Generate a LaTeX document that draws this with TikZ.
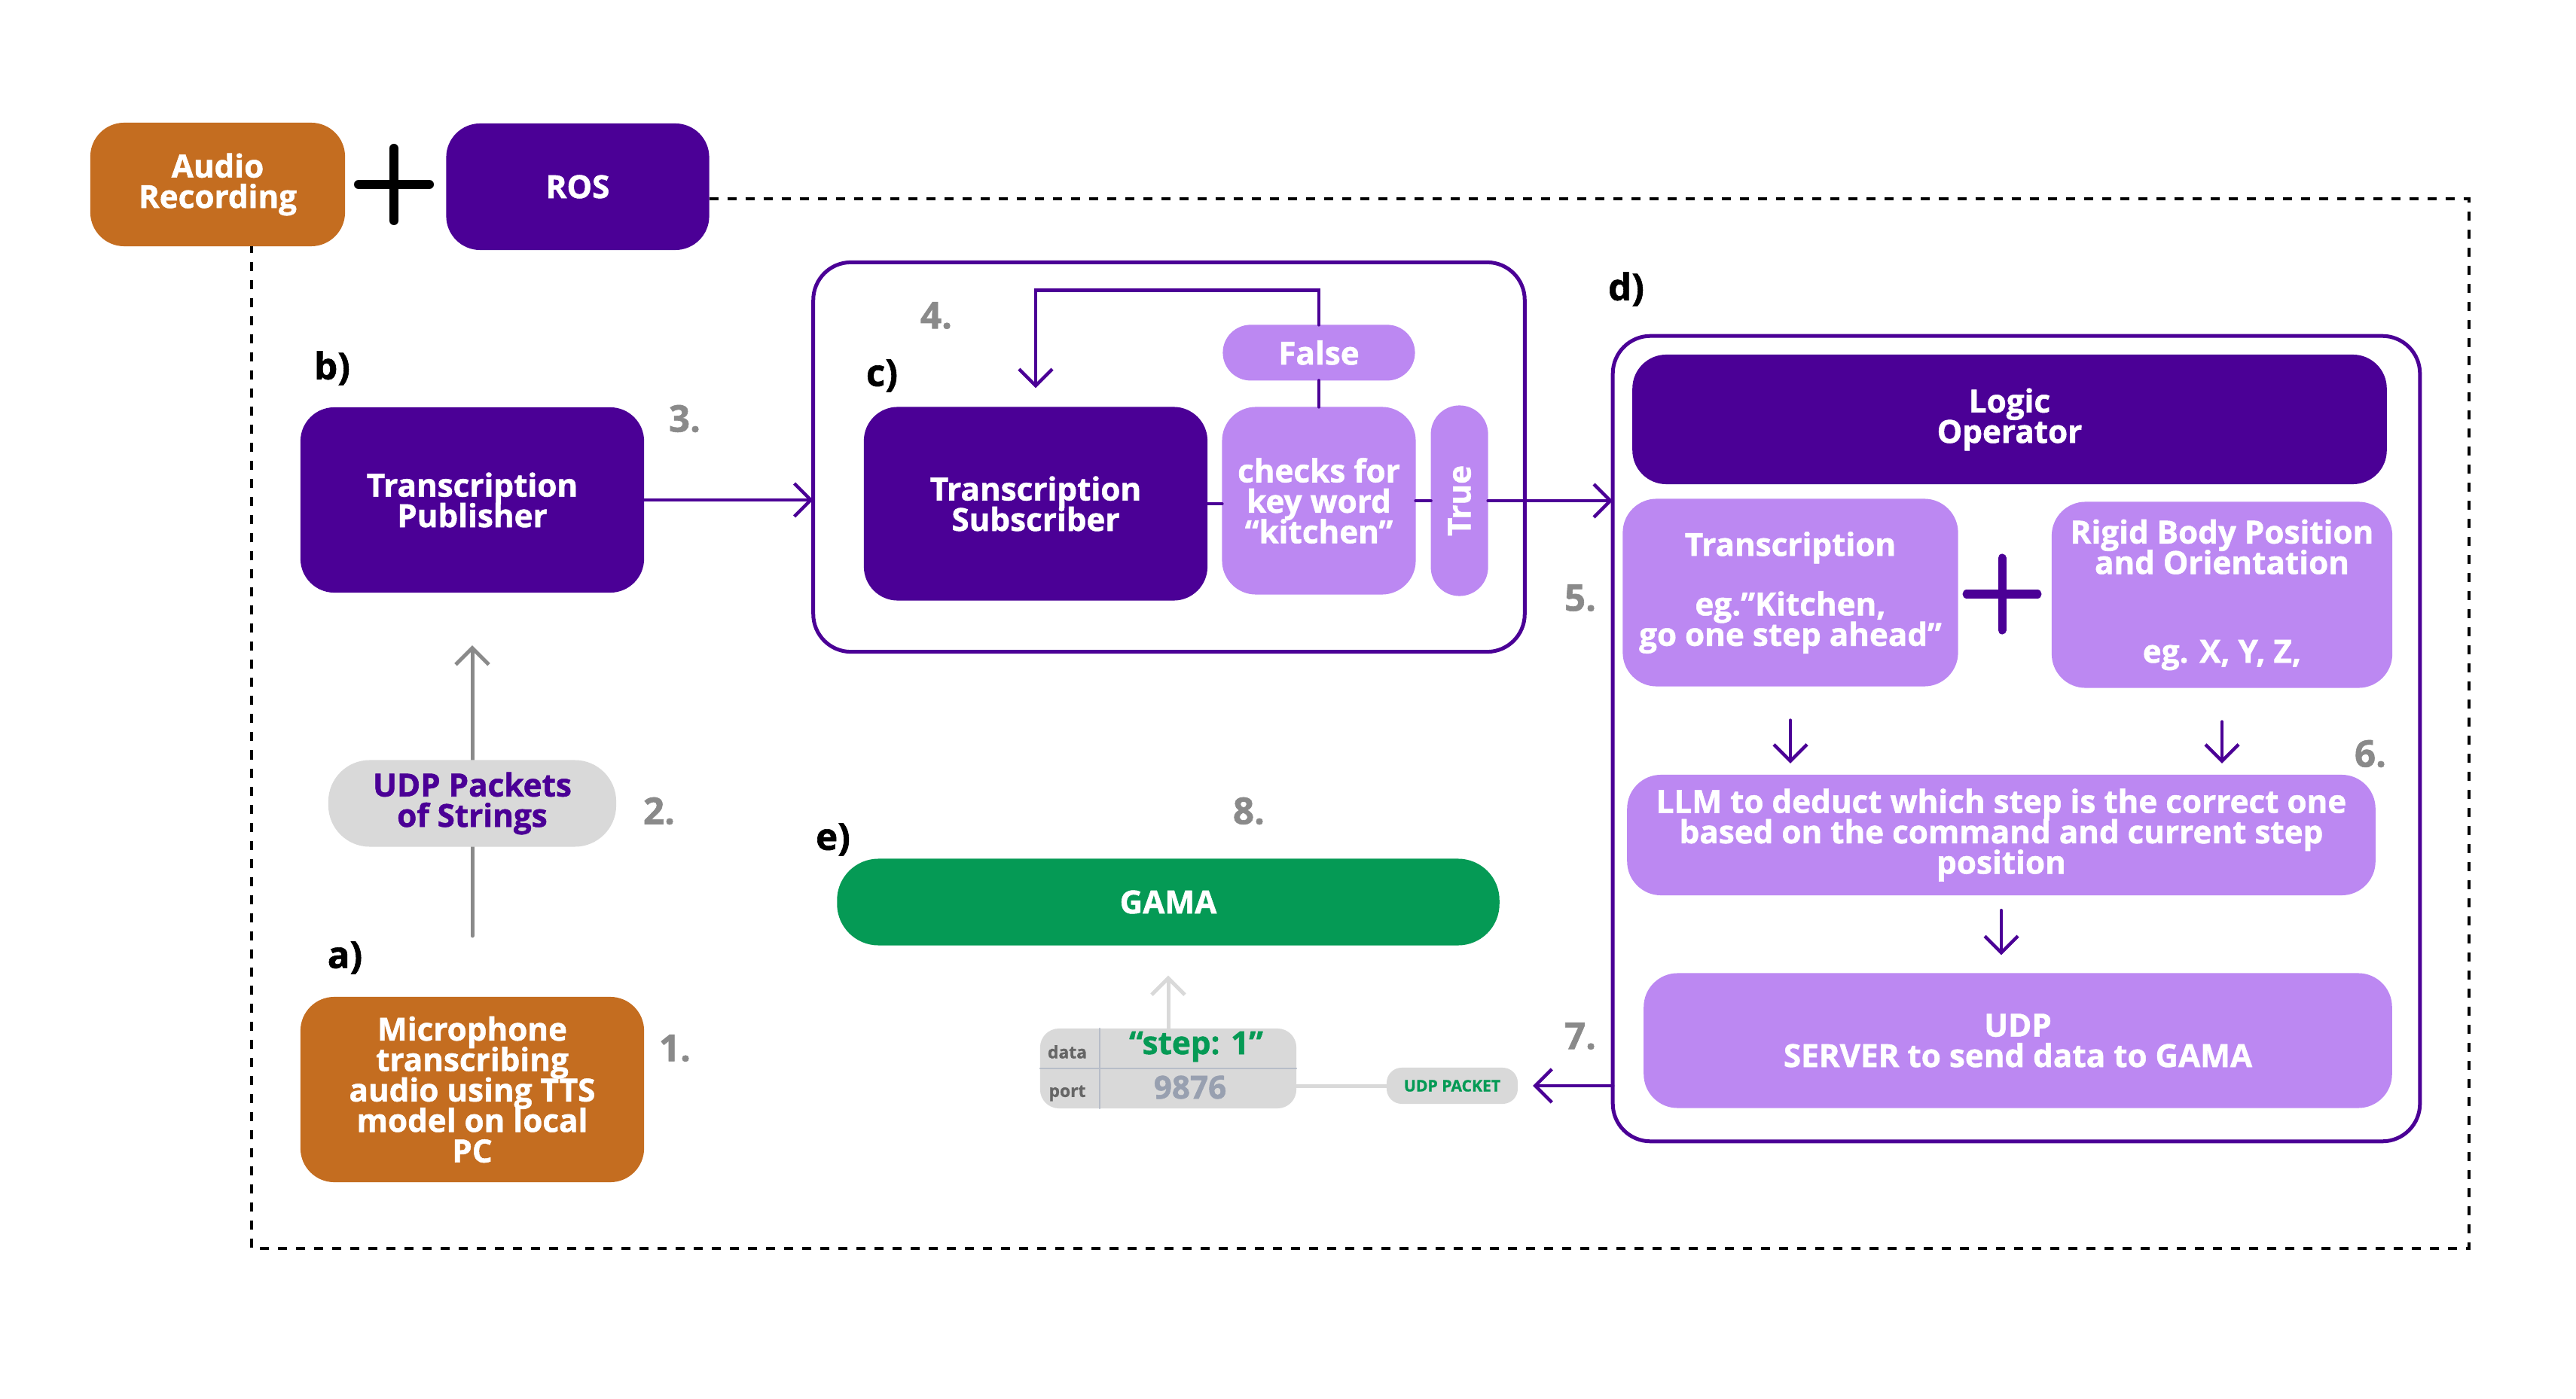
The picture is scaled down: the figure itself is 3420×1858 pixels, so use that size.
\documentclass[tikz,border=0pt]{standalone}
\usepackage{fontspec}
\usepackage{graphicx}
\setmainfont{Open Sans}[BoldFeatures={FakeBold=1.2}]
\usetikzlibrary{positioning,arrows.meta}
\definecolor{rosPurple}{HTML}{4B0096}
\definecolor{lilac}{HTML}{BC88F2}
\definecolor{audioOrange}{HTML}{C46D20}
\definecolor{gamaGreen}{HTML}{059A55}
\definecolor{pillGray}{HTML}{D9D9D9}
\definecolor{numGray}{HTML}{8A8A8A}
\definecolor{keyGray}{HTML}{666666}
\definecolor{portGray}{HTML}{98A0B0}
\newcommand{\boxfont}{\bfseries\fontsize{12}{11.5}\selectfont\lineskiplimit -20pt\relax}
\tikzstyle{block} = [rectangle, rounded corners=0.45cm, align=center, text=white, inner sep=2pt, outer sep=0pt, font={\boxfont}]
\tikzstyle{dark} = [block, fill=rosPurple]
\tikzstyle{soft} = [block, fill=lilac]
\tikzstyle{warm} = [block, fill=audioOrange]
\tikzstyle{pill} = [block, fill=pillGray]
\tikzstyle{group} = [rectangle, draw=rosPurple, line width=0.05cm, rounded corners=0.5cm, outer sep=0pt]
\tikzstyle{tag} = [font=\bfseries\fontsize{14}{14}\selectfont]
\tikzstyle{num} = [text=numGray, font=\bfseries\fontsize{14}{14}\selectfont]
\tikzstyle{flow} = [draw=rosPurple, line width=0.045cm]
\tikzstyle{gflow} = [draw=numGray, line width=0.05cm]
\tikzstyle{lflow} = [draw=pillGray, line width=0.05cm]
\tikzstyle{cell} = [draw=portGray!70, line width=0.02cm]

\begin{document}
\begin{tikzpicture}[x=0.01cm, y=-0.01cm, >={Straight Barb[length=0.22cm, width=0.44cm]}, line cap=round]
\fill [white] (0,0) rectangle (3420,1858);
\useasboundingbox (0,0) rectangle (3420,1858);
% header
\node (audio) [warm, minimum width=3.38cm, minimum height=1.64cm] at (289,245) {Audio\\Recording};
\node (ros) [dark, minimum width=3.49cm, minimum height=1.68cm] at (767,248) {ROS};
\coordinate (plusTop) at (523,245);
\draw [line width=0.12cm] (plusTop) +(-47,0) -- +(47,0) (plusTop) +(0,-48) -- +(0,48);
\draw [line width=0.045cm, line cap=butt, dash pattern=on 0.12cm off 0.12cm] (ros.east |- 0,264) -- (3278,264) -- (3278,1658) -- (334,1658) -- (334,264 |- audio.south);
% a) and b)
\node (pub) [dark, minimum width=4.56cm, minimum height=2.46cm] at (627,664) {Transcription\\Publisher};
\node (micro) [warm, minimum width=4.56cm, minimum height=2.46cm] at (627,1447) {Microphone\\transcribing\\audio using TTS\\model on local\\PC};
\draw [gflow, ->, shorten <=0.81cm, shorten >=0.7cm] (micro.north) -- (pub.south);
\node (udpstr) [pill, text=rosPurple, rounded corners=0.55cm, minimum width=3.82cm, minimum height=1.15cm] at (627,1067) {UDP Packets\\of Strings};
\node (tagB) [tag] at (441,489) {b)};
\node (tagA) [tag] at (458,1272) {a)};
\node (n1) [num] at (896,1392) {1.};
\node (n2) [num] at (875,1077) {2.};
\node (n3) [num] at (909,556) {3.};
% c)
\node (cbox) [group, minimum width=9.44cm, minimum height=5.17cm] at (1552,607) {};
\node (sub) [dark, minimum width=4.56cm, minimum height=2.57cm] at (1375,669) {Transcription\\Subscriber};
\node (checks) [soft, minimum width=2.57cm, minimum height=2.49cm] at (1751,665) {checks for\\key word\\“kitchen”};
\node (false) [soft, rounded corners=0.37cm, minimum width=2.55cm, minimum height=0.74cm, above=0.35cm of checks] {False};
\node (true) [soft, rounded corners=0.38cm, minimum width=0.76cm, minimum height=2.53cm, right=0.2cm of checks] {\rotatebox{90}{True}};
\node (tagC) [tag] at (1171,499) {c)};
\node (n4) [num] at (1243,419) {4.};
\draw [flow, ->] (pub.east) -- (pub.east -| cbox.west);
\draw [flow] (sub.east) -- (sub.east -| checks.west);
\draw [flow] (checks.east |- true.west) -- (true.west);
\draw [flow] (false.south) -- (false.south |- checks.north);
\draw [flow, ->, shorten >=0.25cm] (false.north) -- ++(0,-46) -| (sub.north);
% d)
\node (dbox) [group, minimum width=10.71cm, minimum height=10.69cm] at (2677,981) {};
\node (logic) [dark, minimum width=10.01cm, minimum height=1.72cm] at (2668,557) {Logic\\Operator};
\node (trans) [soft, minimum width=4.45cm, minimum height=2.49cm] at (2377,787) {Transcription\\[11pt]eg.”Kitchen,\\go one step ahead”};
\node (rigid) [soft, minimum width=4.52cm, minimum height=2.47cm] at (2950,790) {Rigid Body Position\\and Orientation\\[22pt]eg. X, Y, Z,};
\coordinate (plusD) at (2658,789);
\draw [draw=rosPurple, line width=0.11cm] (plusD) +(-47,0) -- +(47,0) (plusD) +(0,-48) -- +(0,48);
\node (llm) [soft, minimum width=9.93cm, minimum height=1.6cm] at (2657,1109) {LLM to deduct which step is the correct one\\based on the command and current step\\position};
\node (server) [soft, minimum width=9.93cm, minimum height=1.79cm] at (2679,1382) {UDP\\SERVER to send data to GAMA};
\node (tagD) [tag] at (2159,384) {d)};
\node (n5) [num] at (2098,794) {5.};
\node (n6) [num] at (3147,1001) {6.};
\node (n7) [num] at (2098,1376) {7.};
\draw [flow, ->] (true.east) -- (true.east -| dbox.west);
\draw [flow, ->, shorten <=0.45cm, shorten >=0.15cm] (trans.south) -- (trans.south |- llm.north);
\draw [flow, ->, shorten <=0.45cm, shorten >=0.15cm] (rigid.south) -- (rigid.south |- llm.north);
\draw [flow, ->, shorten <=0.2cm, shorten >=0.24cm] (llm.south) -- (llm.south |- server.north);
% e)
\node (gama) [block, fill=gamaGreen, rounded corners=0.55cm, minimum width=8.79cm, minimum height=1.15cm] at (1551,1198) {GAMA};
\node (tagE) [tag] at (1106,1115) {e)};
\node (n8) [num] at (1658,1077) {8.};
\node (pkt) [rectangle, fill=pillGray, rounded corners=0.25cm, minimum width=3.4cm, minimum height=1.06cm, outer sep=0pt] at (1551,1419) {};
\draw [cell] ([xshift=0.79cm]pkt.north west) -- ([xshift=0.79cm]pkt.south west);
\draw [cell] (pkt.west) -- (pkt.east);
\node (dataKey) [text=keyGray, font=\bfseries\fontsize{6.5}{7}\selectfont] at (1417,1397) {data};
\node (portKey) [text=keyGray, font=\bfseries\fontsize{6.5}{7}\selectfont] at (1417,1452) {port};
\node (dataVal) [text=gamaGreen, font=\bfseries\fontsize{12}{12}\selectfont] at (1588,1390) {“step: 1”};
\node (portVal) [text=portGray, font=\bfseries\fontsize{12}{12}\selectfont] at (1580,1444) {9876};
\node (udppkt) [pill, text=gamaGreen, rounded corners=0.2cm, minimum width=1.74cm, minimum height=0.48cm, font=\bfseries\fontsize{6}{6}\selectfont] at (1928,1442) {UDP PACKET};
\draw [lflow, ->, shorten >=0.4cm] (pkt.north) -- (gama.south);
\draw [lflow, line cap=butt] (udppkt.west) -- (udppkt.west -| pkt.east);
\draw [flow, ->, shorten >=0.2cm] (udppkt.east -| dbox.west) -- (udppkt.east);
\end{tikzpicture}
\end{document}
